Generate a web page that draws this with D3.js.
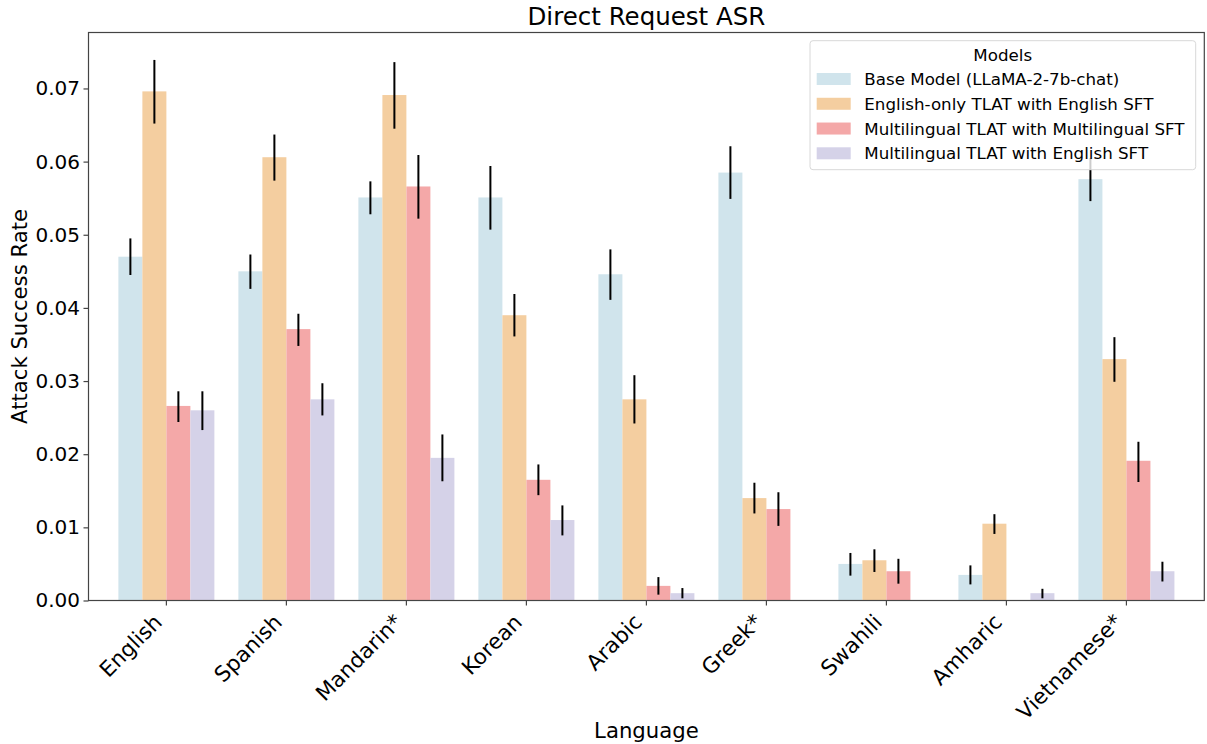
<!DOCTYPE html>
<html>
<head>
<meta charset="utf-8">
<script src="https://cdn.jsdelivr.net/npm/d3@7"></script>
<style>
  html, body { margin: 0; padding: 0; background: #fff; }
  svg { display: block; }
  text { font-family: "DejaVu Sans", sans-serif; fill: #000; }
</style>
</head>
<body>
<svg id="chart" width="1207" height="744"></svg>
<script>
const categories = ["English", "Spanish", "Mandarin*", "Korean", "Arabic", "Greek*", "Swahili", "Amharic", "Vietnamese*"];
const models = [
  "Base Model (LLaMA-2-7b-chat)",
  "English-only TLAT with English SFT",
  "Multilingual TLAT with Multilingual SFT",
  "Multilingual TLAT with English SFT"
];
const colors = ["#d0e4ec", "#f4cea0", "#f4a8a8", "#d5d2e8"];
const yTicks = [0, 0.01, 0.02, 0.03, 0.04, 0.05, 0.06, 0.07];

const baseVals   = [0.0470, 0.0450, 0.0551, 0.0551, 0.0446, 0.0585, 0.0050, 0.0035, 0.0576];
const baseLo     = [0.0445, 0.0426, 0.0528, 0.0507, 0.0411, 0.0549, 0.0034, 0.0022, 0.0546];
const baseHi     = [0.0495, 0.0473, 0.0573, 0.0594, 0.0480, 0.0621, 0.0065, 0.0048, 0.0605];

const engOnlyVals = [0.0696, 0.0606, 0.0691, 0.0390, 0.0275, 0.0140, 0.0055, 0.0105, 0.0330];
const engOnlyLo   = [0.0652, 0.0574, 0.0645, 0.0361, 0.0242, 0.0119, 0.0039, 0.0091, 0.0299];
const engOnlyHi   = [0.0739, 0.0637, 0.0736, 0.0419, 0.0308, 0.0161, 0.0070, 0.0118, 0.0360];

const multiMultiVals = [0.0266, 0.0371, 0.0566, 0.0165, 0.0020, 0.0125, 0.0040, 0.0000, 0.0191];
const multiMultiLo   = [0.0244, 0.0348, 0.0522, 0.0144, 0.0008, 0.0102, 0.0023, 0.0000, 0.0162];
const multiMultiHi   = [0.0286, 0.0392, 0.0609, 0.0186, 0.0032, 0.0148, 0.0057, 0.0000, 0.0217];

const multiEngVals = [0.0260, 0.0275, 0.0195, 0.0110, 0.0010, 0.0000, 0.0000, 0.0010, 0.0040];
const multiEngLo   = [0.0233, 0.0253, 0.0163, 0.0089, 0.0003, 0.0000, 0.0000, 0.0003, 0.0026];
const multiEngHi   = [0.0286, 0.0297, 0.0227, 0.0130, 0.0017, 0.0000, 0.0000, 0.0016, 0.0053];

const seriesVals = [baseVals, engOnlyVals, multiMultiVals, multiEngVals];
const seriesLo = [baseLo, engOnlyLo, multiMultiLo, multiEngLo];
const seriesHi = [baseHi, engOnlyHi, multiMultiHi, multiEngHi];

const rows = [];
categories.forEach((c, i) => {
  models.forEach((m, j) => {
    rows.push({cat: c, model: m, idx: j, v: seriesVals[j][i], lo: seriesLo[j][i], hi: seriesHi[j][i]});
  });
});

const svg = d3.select("#chart");
const L = 88.5, R = 1204.3, T = 32.5, B = 600.5;

const x = d3.scaleBand().domain(categories).range([L, R]).paddingInner(0).paddingOuter(0.149);
const xIn = d3.scaleBand().domain(models).range([x.bandwidth() * 0.1, x.bandwidth() * 0.9]).padding(0);
const y = d3.scaleLinear().domain([0, 0.07765]).range([B, T]);

// bars
svg.append("g").selectAll("rect").data(rows).join("rect")
  .attr("x", d => x(d.cat) + xIn(d.model))
  .attr("y", d => y(d.v))
  .attr("width", xIn.bandwidth())
  .attr("height", d => y(0) - y(d.v))
  .attr("fill", d => colors[d.idx]);

// error bars
svg.append("g").selectAll("line").data(rows.filter(d => d.hi > d.lo)).join("line")
  .attr("x1", d => x(d.cat) + xIn(d.model) + xIn.bandwidth() / 2)
  .attr("x2", d => x(d.cat) + xIn(d.model) + xIn.bandwidth() / 2)
  .attr("y1", d => y(d.lo))
  .attr("y2", d => y(d.hi))
  .attr("stroke", "#000")
  .attr("stroke-width", 2);

// frame
svg.append("rect").attr("x", L).attr("y", T).attr("width", R - L).attr("height", B - T)
  .attr("fill", "none").attr("stroke", "#444").attr("stroke-width", 1.2);

// y axis
const yAxis = d3.axisLeft(y).tickValues(yTicks).tickFormat(d3.format(".2f")).tickSize(5).tickPadding(3.5);
const gy = svg.append("g").attr("transform", `translate(${L},0)`).call(yAxis);
gy.select(".domain").remove();
gy.selectAll(".tick line").attr("stroke", "#444").attr("stroke-width", 1.2);
gy.selectAll(".tick text").style("font-family", "DejaVu Sans, sans-serif").style("font-size", "20px").attr("fill", "#000");

// x axis
const xAxis = d3.axisBottom(x).tickSize(5).tickPadding(0);
const gx = svg.append("g").attr("transform", `translate(0,${B})`).call(xAxis);
gx.select(".domain").remove();
gx.selectAll(".tick line").attr("stroke", "#444").attr("stroke-width", 1.2);
gx.selectAll(".tick text")
  .style("font-family", "DejaVu Sans, sans-serif").style("font-size", "21.5px").attr("fill", "#000")
  .attr("text-anchor", "end")
  .attr("y", 0).attr("dy", 0)
  .attr("transform", "translate(-3,23) rotate(-45)");

// title and labels
svg.append("text").attr("x", (L + R) / 2).attr("y", 25).attr("text-anchor", "middle")
  .style("font-size", "24.5px").text("Direct Request ASR");
svg.append("text").attr("x", (L + R) / 2).attr("y", 738).attr("text-anchor", "middle")
  .style("font-size", "21.2px").text("Language");
svg.append("text").attr("transform", `translate(27,${(T + B) / 2}) rotate(-90)`).attr("text-anchor", "middle")
  .style("font-size", "21.2px").text("Attack Success Rate");

// legend
const lg = svg.append("g");
lg.append("rect").attr("x", 810).attr("y", 40.7).attr("width", 385.7).attr("height", 129)
  .attr("rx", 3).attr("fill", "#fff").attr("fill-opacity", 0.8).attr("stroke", "#d8d8d8").attr("stroke-width", 1);
lg.append("text").attr("x", 1002.7).attr("y", 60.7).attr("text-anchor", "middle")
  .style("font-size", "16.7px").text("Models");
const ly = d3.scalePoint().domain(models).range([85, 159.3]);
lg.selectAll("rect.sw").data(models).join("rect").attr("class", "sw")
  .attr("x", 816.7).attr("y", d => ly(d) - 12).attr("width", 34).attr("height", 12)
  .attr("fill", (d, i) => colors[i]);
lg.selectAll("text.lt").data(models).join("text").attr("class", "lt")
  .attr("x", 864.3).attr("y", d => ly(d))
  .style("font-size", "16.7px").text(d => d);
</script>
</body>
</html>
